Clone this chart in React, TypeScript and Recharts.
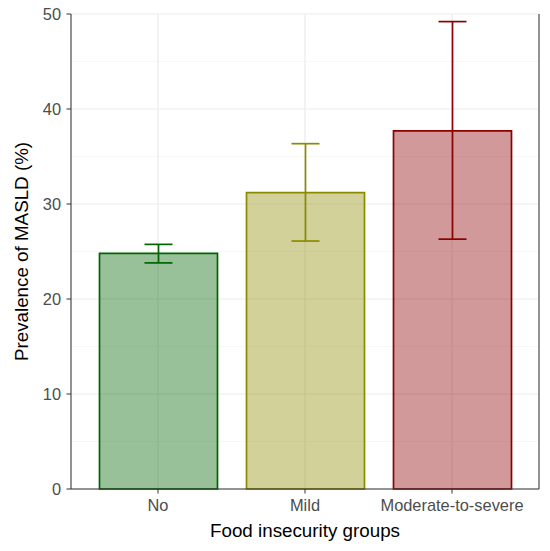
// Prevalence of MASLD by food insecurity group, with 95% CI error bars

import { BarChart, Bar, XAxis, YAxis, CartesianGrid, ErrorBar, Cell } from 'recharts';

const GROUPS = ['No', 'Mild', 'Moderate-to-severe'];
const PREVALENCE = [24.8, 31.2, 37.7];
const CI_LOW = [23.8, 26.1, 26.3];
const CI_HIGH = [25.75, 36.35, 49.2];
const COLORS = ['#006400', '#8B8B00', '#8B0000'];

const Y_TICKS = [0, 10, 20, 30, 40, 50];
const Y_MINOR = [5, 15, 25, 35, 45];

const FONT = '"Liberation Sans", Arial, sans-serif';

const data = GROUPS.map((name, i) => ({
  name,
  value: PREVALENCE[i],
  err: [PREVALENCE[i] - CI_LOW[i], CI_HIGH[i] - PREVALENCE[i]],
}));

// one error bar per group so each can take the bar's own colour
const errFor = (i: number) => (d: any) => (d.name === GROUPS[i] ? d.err : null);

const tickStyle = { fill: '#4D4D4D', fontSize: 16.4, fontFamily: FONT };

function YTitle({ viewBox }: any) {
  const cx = 21;
  const cy = viewBox.y + viewBox.height / 2;
  return (
    <text
      x={cx}
      y={cy}
      transform={`rotate(-90, ${cx}, ${cy})`}
      textAnchor="middle"
      dominantBaseline="central"
      fill="#000"
      fontSize={18.8}
      fontFamily={FONT}
    >
      Prevalence of MASLD (%)
    </text>
  );
}

export default function App() {
  return (
    <div style={{ position: 'absolute', left: 0, top: 0, width: 550, height: 551, background: '#fff' }}>
      <BarChart width={550} height={551} data={data} margin={{ top: 14, right: 0, bottom: 0, left: 0 }}>
        <CartesianGrid vertical={false} stroke="#F3F3F3" strokeWidth={0.7} horizontalValues={Y_MINOR} />
        <CartesianGrid stroke="#EBEBEB" strokeWidth={1.2} />
        <XAxis
          dataKey="name"
          height={62}
          padding={{ left: 13.5, right: 13.5 }}
          tick={tickStyle}
          tickSize={4.5}
          tickMargin={6}
          axisLine={{ stroke: '#333', strokeWidth: 1 }}
          tickLine={{ stroke: '#333', strokeWidth: 1 }}
          label={{ value: 'Food insecurity groups', position: 'insideBottom', offset: 14, fill: '#000', fontSize: 18.8, fontFamily: FONT }}
        />
        <XAxis xAxisId="top" dataKey="name" orientation="top" height={0} tick={false} tickLine={false} axisLine={{ stroke: '#333', strokeWidth: 1 }} />
        <YAxis
          width={71}
          domain={[0, 50]}
          ticks={Y_TICKS}
          tick={tickStyle}
          tickSize={4.5}
          tickMargin={5.5}
          axisLine={{ stroke: '#333', strokeWidth: 1 }}
          tickLine={{ stroke: '#333', strokeWidth: 1 }}
          label={{ content: YTitle }}
        />
        <YAxis yAxisId="right" orientation="right" width={11} domain={[0, 50]} tick={false} tickLine={false} axisLine={{ stroke: '#333', strokeWidth: 1 }} />
        <Bar dataKey="value" barSize={118} strokeWidth={1.7} isAnimationActive={false}>
          {data.map((d, i) => (
            <Cell key={d.name} fill={COLORS[i]} fillOpacity={0.4} stroke={COLORS[i]} />
          ))}
          {GROUPS.map((g, i) => (
            <ErrorBar key={g} dataKey={errFor(i)} width={14} stroke={COLORS[i]} strokeWidth={1.7} isAnimationActive={false} />
          ))}
        </Bar>
      </BarChart>
    </div>
  );
}
